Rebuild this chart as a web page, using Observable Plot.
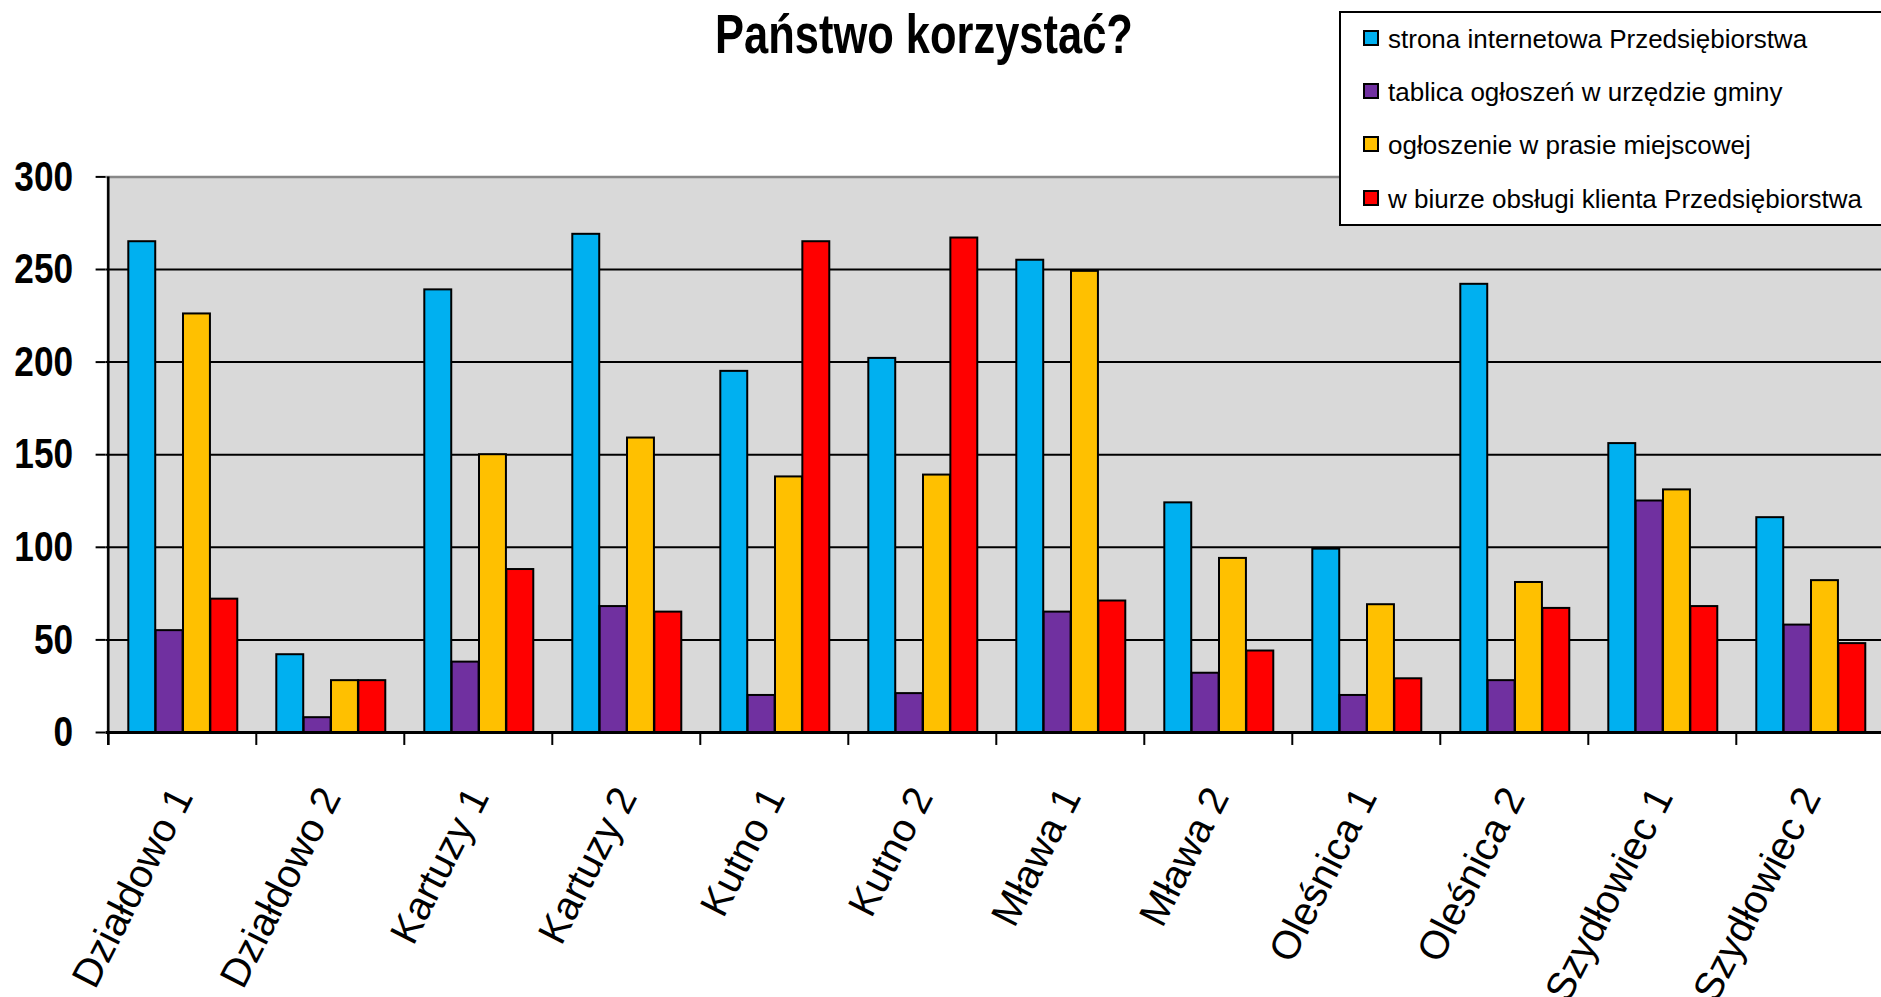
<!DOCTYPE html>
<html>
<head>
<meta charset="utf-8">
<script src="https://cdn.jsdelivr.net/npm/d3@7"></script>
<script src="https://cdn.jsdelivr.net/npm/@observablehq/plot@0.6"></script>
<style>
html, body { margin: 0; padding: 0; background: #fff; overflow: hidden; width: 1881px; height: 997px; }
#wrap { position: relative; width: 1881px; height: 997px; overflow: hidden; }
#chart { position: absolute; left: 0; top: 0; }
#title { position: absolute; left: 524px; width: 800px; top: 7px; text-align: center;
  font-family: "Liberation Sans", Arial, sans-serif; font-weight: bold;
  font-size: 55px; line-height: 54px; color: #000; white-space: nowrap;
  transform: scaleX(0.79); transform-origin: 50% 50%; }
#legend { position: absolute; left: 1339px; top: 11px; width: 580px; height: 211px; background: #fff;
  border: 2.5px solid #000; box-sizing: content-box; }
.row { position: absolute; left: 0; height: 26px; line-height: 26px; font-family: "Liberation Sans", Arial, sans-serif;
  font-size: 26px; color: #000; white-space: nowrap; }
.sw { position: absolute; left: 22px; top: 4px; width: 12px; height: 12px; border: 2px solid #000; }
.lbl { position: absolute; left: 47px; top: 0; }
</style>
</head>
<body>
<div id="wrap">
  <div id="chart"></div>
  <div id="title">Państwo korzystać?</div>
  <div id="legend"></div>
</div>
<script>
const categories = ["Działdowo 1", "Działdowo 2", "Kartuzy 1", "Kartuzy 2", "Kutno 1", "Kutno 2",
  "Mława 1", "Mława 2", "Oleśnica 1", "Oleśnica 2", "Szydłowiec 1", "Szydłowiec 2"];
const seriesNames = ["strona internetowa Przedsiębiorstwa", "tablica ogłoszeń w urzędzie gminy",
  "ogłoszenie w prasie miejscowej", "w biurze obsługi klienta Przedsiębiorstwa"];
const colors = ["#00B0F0", "#7030A0", "#FFC000", "#FF0000"];
const strona = [265, 42, 239, 269, 195, 202, 255, 124, 99, 242, 156, 116];
const tablica = [55, 8, 38, 68, 20, 21, 65, 32, 20, 28, 125, 58];
const prasa = [226, 28, 150, 159, 138, 139, 249, 94, 69, 81, 131, 82];
const biuro = [72, 28, 88, 65, 265, 267, 71, 44, 29, 67, 68, 48];
const yTicks = [0, 50, 100, 150, 200, 250, 300];

const seriesValues = [strona, tablica, prasa, biuro];
const data = seriesNames.flatMap((s, j) => categories.map((c, i) => ({category: c, series: s, value: seriesValues[j][i]})));

const W = 1881, H = 997;
const mL = 105.6, mR = -5.6, mT = 176.4, mB = 265;
const step = (W - mR - mL) / categories.length;
const gapL = 20.3, bw = 27.35;

const bars = seriesNames.map((s, j) => Plot.barY(data.filter(d => d.series === s), {
  x: "category", y: "value", fill: colors[j], stroke: "#000", strokeWidth: 2,
  insetLeft: gapL + bw * j, insetRight: step - gapL - bw * (j + 1)
}));

const chart = Plot.plot({
  width: W, height: H,
  marginLeft: mL, marginRight: mR, marginTop: mT, marginBottom: mB,
  style: {background: "transparent", color: "#000", overflow: "visible"},
  x: {type: "band", domain: categories, padding: 0},
  y: {domain: [0, 300]},
  marks: [
    Plot.frame({fill: "#D9D9D9", stroke: "none"}),
    Plot.gridY(yTicks.filter(t => t > 0 && t < 300), {stroke: "#000", strokeOpacity: 1, strokeWidth: 2}),
    Plot.ruleY([300], {stroke: "#888", strokeWidth: 2.5}),
    ...bars,
    Plot.ruleY([0], {stroke: "#000", strokeWidth: 3}),
    Plot.ruleX([categories[0]], {dx: -step / 2, y1: -7, y2: 300, stroke: "#000", strokeWidth: 2.5}),
    Plot.ruleX(categories, {dx: -step / 2, y1: 0, y2: -7, stroke: "#000", strokeWidth: 2}),
    Plot.axisY({ticks: yTicks, tickSize: 10, tickPadding: 23, fontSize: 43, fontWeight: "bold",
      fontFamily: "'Liberation Sans', Arial, sans-serif", strokeWidth: 2, label: null}),
    Plot.axisX({tickRotate: -63, tickSize: 0, tickPadding: 58, dx: 0, fontSize: 40,
      fontFamily: "'Liberation Sans', Arial, sans-serif", label: null})
  ]
});
document.getElementById("chart").appendChild(chart);

// condense the bold y tick labels to match the narrow face of the original
d3.select(chart).selectAll('g[aria-label="y-axis tick label"] text').each(function () {
  const n = this.textContent.length;
  this.setAttribute("textLength", n * 19.6);
  this.setAttribute("lengthAdjust", "spacingAndGlyphs");
});

const legend = document.getElementById("legend");
seriesNames.forEach((s, j) => {
  const row = document.createElement("div");
  row.className = "row";
  row.style.top = (13 + 53.2 * j) + "px";
  const sw = document.createElement("div");
  sw.className = "sw";
  sw.style.background = colors[j];
  const lbl = document.createElement("div");
  lbl.className = "lbl";
  lbl.textContent = s;
  row.appendChild(sw);
  row.appendChild(lbl);
  legend.appendChild(row);
});
</script>
</body>
</html>
